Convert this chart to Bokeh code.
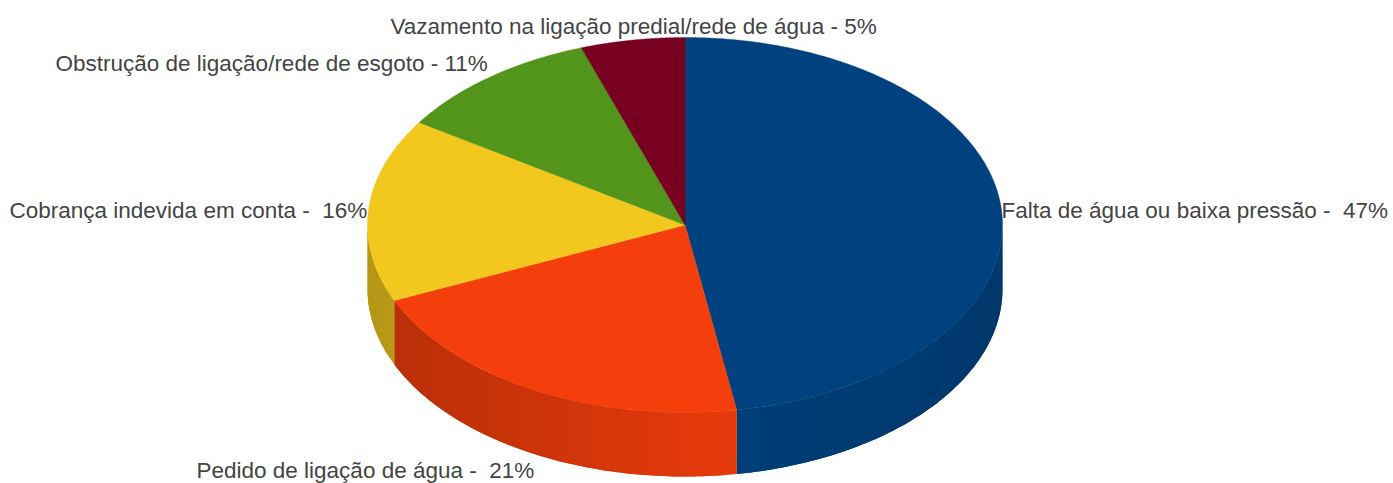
import numpy as np
from bokeh.plotting import figure
from bokeh.models import ColumnDataSource
from bokeh.core.properties import value
from bokeh.embed import file_html
from bokeh.resources import INLINE

categories = ["Falta de água ou baixa pressão", "Pedido de ligação de água", "Cobrança indevida em conta",
              "Obstrução de ligação/rede de esgoto", "Vazamento na ligação predial/rede de água"]
shares = [47.4, 21.0, 15.8, 10.5, 5.3]
labels = ["Falta de água ou baixa pressão -\u00a0 47%", "Pedido de ligação de água -\u00a0 21%",
          "Cobrança indevida em conta -\u00a0 16%", "Obstrução de ligação/rede de esgoto - 11%",
          "Vazamento na ligação predial/rede de água - 5%"]
colors = ["#00427f", "#f43e0c", "#f2c81e", "#53951a", "#780020"]

W, H = 1393, 483
CX, CY, RX, RY, DEPTH = 684.5, 224.5, 317.5, 187.5, 64.0
# label anchors in page pixels: left x, middle y
label_x = [1001, 196, 9, 55, 390]
label_y = [210, 470, 210, 63, 26]
FONT = "Liberation Sans"
FONT_SIZE = "22.5px"

p = figure(width=W, height=H, x_range=(0, W), y_range=(H, 0), output_backend="svg",
           toolbar_location=None, min_border=0, outline_line_color=None)
p.axis.visible = False
p.grid.visible = False
p.background_fill_color = "white"
p.border_fill_color = "white"


def shade(col, f):
    r, g, b = int(col[1:3], 16), int(col[3:5], 16), int(col[5:7], 16)
    return "#%02x%02x%02x" % (int(r * f), int(g * f), int(b * f))


def side_factor(x):
    # lighting of the rim: darkest on the far left, brightest just right of centre, darker to the right
    t = (x - CX) / RX
    if t < 0.17:
        return 0.75 + (0.95 - 0.75) * (t + 1) / 1.17
    return 0.95 - (0.95 - 0.85) * (t - 0.17) / 0.83


edges = np.concatenate([[0], np.cumsum(shares)]) / np.sum(shares) * 2 * np.pi

# rim: strips painted in order, each overlapping the next so no seams show
xs, ys, fills = [], [], []
for i in range(len(shares)):
    a0, a1 = max(edges[i], np.pi / 2), min(edges[i + 1], 3 * np.pi / 2)
    if a1 <= a0:
        continue
    steps = max(2, int((a1 - a0) / 0.03))
    grid = np.linspace(a0, a1, steps + 1)
    for k in range(steps):
        t = np.linspace(grid[k], grid[min(k + 2, steps)], 5)
        x = CX + RX * np.sin(t)
        y = CY - RY * np.cos(t)
        xs.append(np.concatenate([x, x[::-1]]).tolist())
        ys.append(np.concatenate([y, y[::-1] + DEPTH]).tolist())
        fills.append(shade(colors[i], side_factor(CX + RX * np.sin((grid[k] + grid[k + 1]) / 2))))
p.patches(xs="xs", ys="ys", fill_color="fills", line_color=None,
          source=ColumnDataSource(dict(xs=xs, ys=ys, fills=fills)))

# top face
xs, ys = [], []
for i in range(len(shares)):
    t = np.linspace(edges[i], edges[i + 1], 200)
    xs.append(np.concatenate([[CX], CX + RX * np.sin(t)]).tolist())
    ys.append(np.concatenate([[CY], CY - RY * np.cos(t)]).tolist())
p.patches(xs="xs", ys="ys", fill_color="fills", line_color="fills", line_width=0.4,
          source=ColumnDataSource(dict(xs=xs, ys=ys, fills=colors)))

p.text(x="x", y="y", text="t", source=ColumnDataSource(dict(x=label_x, y=label_y, t=labels)),
       text_font=value(FONT), text_font_size=value(FONT_SIZE), text_color="#444444",
       text_baseline="middle", text_align="left")

open("out.html", "w").write(file_html(p, INLINE))
